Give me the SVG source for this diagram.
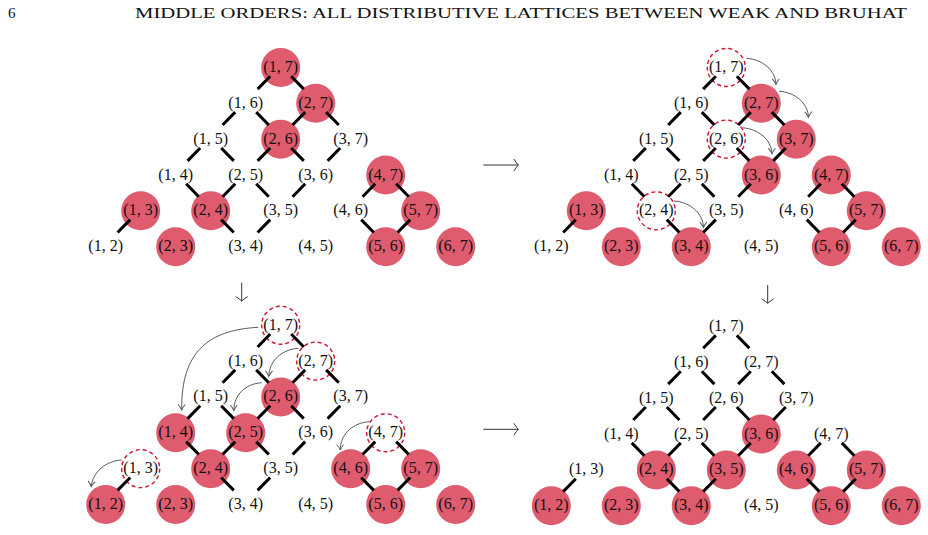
<svg xmlns="http://www.w3.org/2000/svg" width="928" height="535" viewBox="0 0 928 535">
<style>
text{font-family:"Liberation Serif","Times New Roman",serif;fill:#111}
.n text{font-size:16px;text-anchor:middle}
.r{fill:#DF5B6E}
.d{fill:none;stroke:#D2122E;stroke-width:1.4;stroke-dasharray:4 3}
.e{fill:none;stroke:#000;stroke-width:3}
.a{fill:none;stroke:#5a5a5a;stroke-width:1}
.m{fill:none;stroke:#333;stroke-width:1}
</style>
<defs>
<marker id="ah" markerUnits="userSpaceOnUse" orient="auto" refX="0" refY="0" markerWidth="12" markerHeight="12" overflow="visible">
<path d="M-5.5,-3.5 Q-2,-0.8 0,0 Q-2,0.8 -5.5,3.5" fill="none" stroke="#5a5a5a" stroke-width="1"/>
</marker>
<marker id="mh" markerUnits="userSpaceOnUse" orient="auto" refX="0" refY="0" markerWidth="14" markerHeight="14" overflow="visible">
<path d="M-4.5,-6 Q-1.5,-1.5 0,0 Q-1.5,1.5 -4.5,6" fill="none" stroke="#333" stroke-width="1"/>
</marker>
</defs>
<text x="8" y="18" font-size="15">6</text>
<text x="135" y="18" font-size="15" textLength="772" lengthAdjust="spacingAndGlyphs">MIDDLE ORDERS: ALL DISTRIBUTIVE LATTICES BETWEEN WEAK AND BRUHAT</text>

<g id="panel-tl" class="n" transform="translate(105.7,246.7)">
<g id="tl-12" transform="translate(0,0)"><text y="4.5">(1, 2)</text></g>
<g id="tl-23" transform="translate(70,0)"><circle class="r" r="19.5"/><text y="4.5">(2, 3)</text></g>
<g id="tl-34" transform="translate(140,0)"><text y="4.5">(3, 4)</text></g>
<g id="tl-45" transform="translate(210,0)"><text y="4.5">(4, 5)</text></g>
<g id="tl-56" transform="translate(280,0)"><circle class="r" r="19.5"/><text y="4.5">(5, 6)</text></g>
<g id="tl-67" transform="translate(350,0)"><circle class="r" r="19.5"/><text y="4.5">(6, 7)</text></g>
<g id="tl-13" transform="translate(35,-35.85)"><circle class="r" r="19.5"/><text y="4.5">(1, 3)</text></g>
<g id="tl-24" transform="translate(105,-35.85)"><circle class="r" r="19.5"/><text y="4.5">(2, 4)</text></g>
<g id="tl-35" transform="translate(175,-35.85)"><text y="4.5">(3, 5)</text></g>
<g id="tl-46" transform="translate(245,-35.85)"><text y="4.5">(4, 6)</text></g>
<g id="tl-57" transform="translate(315,-35.85)"><circle class="r" r="19.5"/><text y="4.5">(5, 7)</text></g>
<g id="tl-14" transform="translate(70,-71.7)"><text y="4.5">(1, 4)</text></g>
<g id="tl-25" transform="translate(140,-71.7)"><text y="4.5">(2, 5)</text></g>
<g id="tl-36" transform="translate(210,-71.7)"><text y="4.5">(3, 6)</text></g>
<g id="tl-47" transform="translate(280,-71.7)"><circle class="r" r="19.5"/><text y="4.5">(4, 7)</text></g>
<g id="tl-15" transform="translate(105,-107.55)"><text y="4.5">(1, 5)</text></g>
<g id="tl-26" transform="translate(175,-107.55)"><circle class="r" r="19.5"/><text y="4.5">(2, 6)</text></g>
<g id="tl-37" transform="translate(245,-107.55)"><text y="4.5">(3, 7)</text></g>
<g id="tl-16" transform="translate(140,-143.4)"><text y="4.5">(1, 6)</text></g>
<g id="tl-27" transform="translate(210,-143.4)"><circle class="r" r="19.5"/><text y="4.5">(2, 7)</text></g>
<g id="tl-17" transform="translate(175,-179.25)"><circle class="r" r="19.5"/><text y="4.5">(1, 7)</text></g>
</g>

<g id="panel-tr" class="n" transform="translate(551.3,246.7)">
<g id="tr-12" transform="translate(0,0)"><text y="4.5">(1, 2)</text></g>
<g id="tr-23" transform="translate(70,0)"><circle class="r" r="19.5"/><text y="4.5">(2, 3)</text></g>
<g id="tr-34" transform="translate(140,0)"><circle class="r" r="19.5"/><text y="4.5">(3, 4)</text></g>
<g id="tr-45" transform="translate(210,0)"><text y="4.5">(4, 5)</text></g>
<g id="tr-56" transform="translate(280,0)"><circle class="r" r="19.5"/><text y="4.5">(5, 6)</text></g>
<g id="tr-67" transform="translate(350,0)"><circle class="r" r="19.5"/><text y="4.5">(6, 7)</text></g>
<g id="tr-13" transform="translate(35,-35.85)"><circle class="r" r="19.5"/><text y="4.5">(1, 3)</text></g>
<g id="tr-24" transform="translate(105,-35.85)"><circle class="d" r="19"/><text y="4.5">(2, 4)</text></g>
<g id="tr-35" transform="translate(175,-35.85)"><text y="4.5">(3, 5)</text></g>
<g id="tr-46" transform="translate(245,-35.85)"><text y="4.5">(4, 6)</text></g>
<g id="tr-57" transform="translate(315,-35.85)"><circle class="r" r="19.5"/><text y="4.5">(5, 7)</text></g>
<g id="tr-14" transform="translate(70,-71.7)"><text y="4.5">(1, 4)</text></g>
<g id="tr-25" transform="translate(140,-71.7)"><text y="4.5">(2, 5)</text></g>
<g id="tr-36" transform="translate(210,-71.7)"><circle class="r" r="19.5"/><text y="4.5">(3, 6)</text></g>
<g id="tr-47" transform="translate(280,-71.7)"><circle class="r" r="19.5"/><text y="4.5">(4, 7)</text></g>
<g id="tr-15" transform="translate(105,-107.55)"><text y="4.5">(1, 5)</text></g>
<g id="tr-26" transform="translate(175,-107.55)"><circle class="d" r="19"/><text y="4.5">(2, 6)</text></g>
<g id="tr-37" transform="translate(245,-107.55)"><circle class="r" r="19.5"/><text y="4.5">(3, 7)</text></g>
<g id="tr-16" transform="translate(140,-143.4)"><text y="4.5">(1, 6)</text></g>
<g id="tr-27" transform="translate(210,-143.4)"><circle class="r" r="19.5"/><text y="4.5">(2, 7)</text></g>
<g id="tr-17" transform="translate(175,-179.25)"><circle class="d" r="19"/><text y="4.5">(1, 7)</text></g>
</g>

<g id="panel-bl" class="n" transform="translate(105.7,504.5)">
<g id="bl-12" transform="translate(0,0)"><circle class="r" r="19.5"/><text y="4.5">(1, 2)</text></g>
<g id="bl-23" transform="translate(70,0)"><circle class="r" r="19.5"/><text y="4.5">(2, 3)</text></g>
<g id="bl-34" transform="translate(140,0)"><text y="4.5">(3, 4)</text></g>
<g id="bl-45" transform="translate(210,0)"><text y="4.5">(4, 5)</text></g>
<g id="bl-56" transform="translate(280,0)"><circle class="r" r="19.5"/><text y="4.5">(5, 6)</text></g>
<g id="bl-67" transform="translate(350,0)"><circle class="r" r="19.5"/><text y="4.5">(6, 7)</text></g>
<g id="bl-13" transform="translate(35,-35.85)"><circle class="d" r="19"/><text y="4.5">(1, 3)</text></g>
<g id="bl-24" transform="translate(105,-35.85)"><circle class="r" r="19.5"/><text y="4.5">(2, 4)</text></g>
<g id="bl-35" transform="translate(175,-35.85)"><text y="4.5">(3, 5)</text></g>
<g id="bl-46" transform="translate(245,-35.85)"><circle class="r" r="19.5"/><text y="4.5">(4, 6)</text></g>
<g id="bl-57" transform="translate(315,-35.85)"><circle class="r" r="19.5"/><text y="4.5">(5, 7)</text></g>
<g id="bl-14" transform="translate(70,-71.7)"><circle class="r" r="19.5"/><text y="4.5">(1, 4)</text></g>
<g id="bl-25" transform="translate(140,-71.7)"><circle class="r" r="19.5"/><text y="4.5">(2, 5)</text></g>
<g id="bl-36" transform="translate(210,-71.7)"><text y="4.5">(3, 6)</text></g>
<g id="bl-47" transform="translate(280,-71.7)"><circle class="d" r="19"/><text y="4.5">(4, 7)</text></g>
<g id="bl-15" transform="translate(105,-107.55)"><text y="4.5">(1, 5)</text></g>
<g id="bl-26" transform="translate(175,-107.55)"><circle class="r" r="19.5"/><text y="4.5">(2, 6)</text></g>
<g id="bl-37" transform="translate(245,-107.55)"><text y="4.5">(3, 7)</text></g>
<g id="bl-16" transform="translate(140,-143.4)"><text y="4.5">(1, 6)</text></g>
<g id="bl-27" transform="translate(210,-143.4)"><circle class="d" r="19"/><text y="4.5">(2, 7)</text></g>
<g id="bl-17" transform="translate(175,-179.25)"><circle class="d" r="19"/><text y="4.5">(1, 7)</text></g>
</g>

<g id="panel-br" class="n" transform="translate(551.3,505.8)">
<g id="br-12" transform="translate(0,0)"><circle class="r" r="19.5"/><text y="4.5">(1, 2)</text></g>
<g id="br-23" transform="translate(70,0)"><circle class="r" r="19.5"/><text y="4.5">(2, 3)</text></g>
<g id="br-34" transform="translate(140,0)"><circle class="r" r="19.5"/><text y="4.5">(3, 4)</text></g>
<g id="br-45" transform="translate(210,0)"><text y="4.5">(4, 5)</text></g>
<g id="br-56" transform="translate(280,0)"><circle class="r" r="19.5"/><text y="4.5">(5, 6)</text></g>
<g id="br-67" transform="translate(350,0)"><circle class="r" r="19.5"/><text y="4.5">(6, 7)</text></g>
<g id="br-13" transform="translate(35,-35.85)"><text y="4.5">(1, 3)</text></g>
<g id="br-24" transform="translate(105,-35.85)"><circle class="r" r="19.5"/><text y="4.5">(2, 4)</text></g>
<g id="br-35" transform="translate(175,-35.85)"><circle class="r" r="19.5"/><text y="4.5">(3, 5)</text></g>
<g id="br-46" transform="translate(245,-35.85)"><circle class="r" r="19.5"/><text y="4.5">(4, 6)</text></g>
<g id="br-57" transform="translate(315,-35.85)"><circle class="r" r="19.5"/><text y="4.5">(5, 7)</text></g>
<g id="br-14" transform="translate(70,-71.7)"><text y="4.5">(1, 4)</text></g>
<g id="br-25" transform="translate(140,-71.7)"><text y="4.5">(2, 5)</text></g>
<g id="br-36" transform="translate(210,-71.7)"><circle class="r" r="19.5"/><text y="4.5">(3, 6)</text></g>
<g id="br-47" transform="translate(280,-71.7)"><text y="4.5">(4, 7)</text></g>
<g id="br-15" transform="translate(105,-107.55)"><text y="4.5">(1, 5)</text></g>
<g id="br-26" transform="translate(175,-107.55)"><text y="4.5">(2, 6)</text></g>
<g id="br-37" transform="translate(245,-107.55)"><text y="4.5">(3, 7)</text></g>
<g id="br-16" transform="translate(140,-143.4)"><text y="4.5">(1, 6)</text></g>
<g id="br-27" transform="translate(210,-143.4)"><text y="4.5">(2, 7)</text></g>
<g id="br-17" transform="translate(175,-179.25)"><text y="4.5">(1, 7)</text></g>
</g>

<g id="connectors">
<path class="e" transform="translate(105.7,246.7)" d="M164.5-170.45L151.9-157.55M185.5-170.45L198.1-157.55M129.5-134.6L116.9-121.7M150.5-134.6L163.1-121.7M199.5-134.6L186.9-121.7M220.5-134.6L233.1-121.7M94.5-98.75L81.9-85.85M115.5-98.75L128.1-85.85M164.5-98.75L151.9-85.85M185.5-98.75L198.1-85.85M234.5-98.75L221.9-85.85M80.5-62.9L93.1-50M129.5-62.9L116.9-50M150.5-62.9L163.1-50M199.5-62.9L186.9-50M269.5-62.9L256.9-50M290.5-62.9L303.1-50M24.5-27.05L11.9-14.15M115.5-27.05L128.1-14.15M164.5-27.05L151.9-14.15M255.5-27.05L268.1-14.15M304.5-27.05L291.9-14.15"/>
<path class="e" transform="translate(551.3,246.7)" d="M164.5-170.45L151.9-157.55M185.5-170.45L198.1-157.55M129.5-134.6L116.9-121.7M150.5-134.6L163.1-121.7M199.5-134.6L186.9-121.7M220.5-134.6L233.1-121.7M94.5-98.75L81.9-85.85M115.5-98.75L128.1-85.85M164.5-98.75L151.9-85.85M185.5-98.75L198.1-85.85M234.5-98.75L221.9-85.85M80.5-62.9L93.1-50M129.5-62.9L116.9-50M150.5-62.9L163.1-50M199.5-62.9L186.9-50M269.5-62.9L256.9-50M290.5-62.9L303.1-50M24.5-27.05L11.9-14.15M115.5-27.05L128.1-14.15M164.5-27.05L151.9-14.15M255.5-27.05L268.1-14.15M304.5-27.05L291.9-14.15"/>
<path class="e" transform="translate(105.7,504.5)" d="M164.5-170.45L151.9-157.55M185.5-170.45L198.1-157.55M129.5-134.6L116.9-121.7M150.5-134.6L163.1-121.7M199.5-134.6L186.9-121.7M220.5-134.6L233.1-121.7M94.5-98.75L81.9-85.85M115.5-98.75L128.1-85.85M164.5-98.75L151.9-85.85M185.5-98.75L198.1-85.85M234.5-98.75L221.9-85.85M80.5-62.9L93.1-50M129.5-62.9L116.9-50M150.5-62.9L163.1-50M199.5-62.9L186.9-50M269.5-62.9L256.9-50M290.5-62.9L303.1-50M24.5-27.05L11.9-14.15M115.5-27.05L128.1-14.15M164.5-27.05L151.9-14.15M255.5-27.05L268.1-14.15M304.5-27.05L291.9-14.15"/>
<path class="e" transform="translate(551.3,505.8)" d="M164.5-170.45L151.9-157.55M185.5-170.45L198.1-157.55M129.5-134.6L116.9-121.7M150.5-134.6L163.1-121.7M199.5-134.6L186.9-121.7M220.5-134.6L233.1-121.7M94.5-98.75L81.9-85.85M115.5-98.75L128.1-85.85M164.5-98.75L151.9-85.85M185.5-98.75L198.1-85.85M234.5-98.75L221.9-85.85M80.5-62.9L93.1-50M129.5-62.9L116.9-50M150.5-62.9L163.1-50M199.5-62.9L186.9-50M269.5-62.9L256.9-50M290.5-62.9L303.1-50M24.5-27.05L11.9-14.15M115.5-27.05L128.1-14.15M164.5-27.05L151.9-14.15M255.5-27.05L268.1-14.15M304.5-27.05L291.9-14.15"/>

<path class="a" marker-end="url(#ah)" d="M746.5,58.3c16,1 29,12 29.5,26"/>
<path class="a" marker-end="url(#ah)" d="M779,91.2c16,1 29,12 29.5,26"/>
<path class="a" marker-end="url(#ah)" d="M742.5,127.8c16,1 29,12 29.5,26"/>
<path class="a" marker-end="url(#ah)" d="M674,201c16,1 29,12 29.5,26.5"/>

<path class="a" marker-end="url(#ah)" d="M258.3,327.3C210,330 181,350 181.7,410"/>
<path class="a" marker-end="url(#ah)" d="M298.3,348.3c-16,1 -29,12 -29.5,28"/>
<path class="a" marker-end="url(#ah)" d="M261.7,382.7c-16,1 -28,12 -27.8,27.8"/>
<path class="a" marker-end="url(#ah)" d="M369.3,421.7c-16,1 -29,12 -29,28.3"/>
<path class="a" marker-end="url(#ah)" d="M121.7,460c-16,1 -29,12 -30.5,26.7"/>

<path class="m" marker-end="url(#mh)" d="M241.7,282.7V301"/>
<path class="m" marker-end="url(#mh)" d="M767.7,285V303.3"/>
<path class="m" marker-end="url(#mh)" d="M483.3,165H518.3"/>
<path class="m" marker-end="url(#mh)" d="M483.3,429.3H518.3"/>
</g>
</svg>
